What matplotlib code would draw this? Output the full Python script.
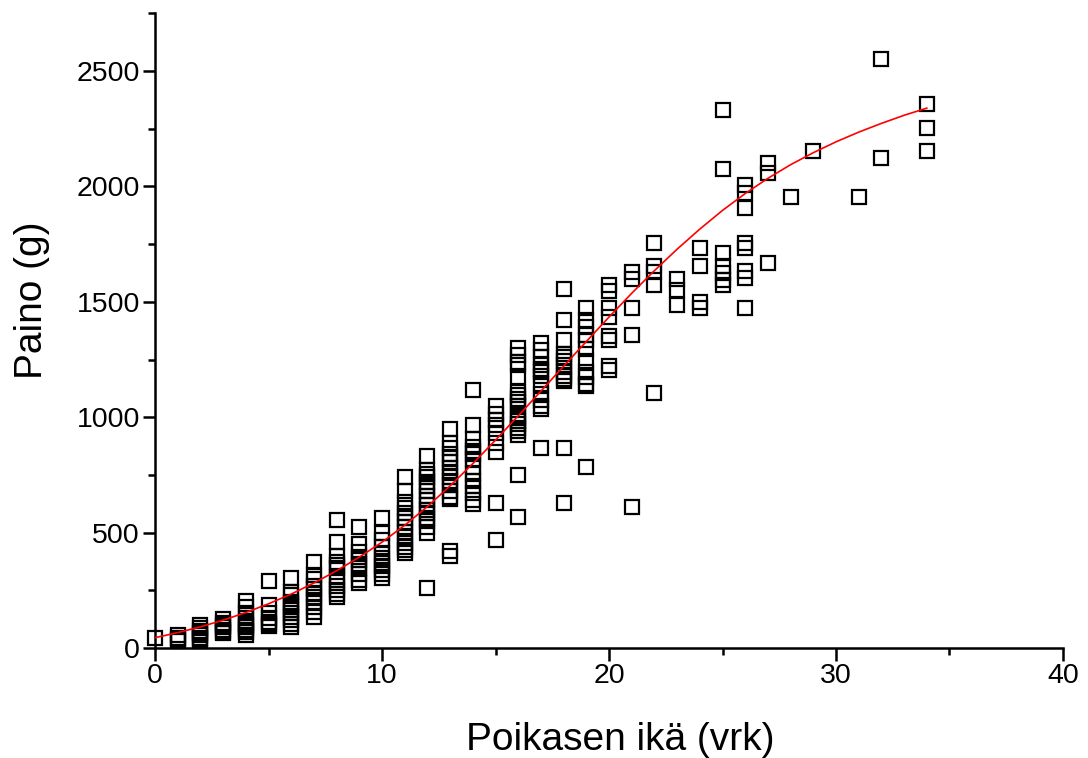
import matplotlib
matplotlib.use("Agg")
import matplotlib.pyplot as plt
from matplotlib.ticker import MultipleLocator

plt.rcParams['font.family'] = ['Liberation Sans', 'DejaVu Sans']

# poikasen ikä (vrk) ja punnitut painot (g) kullekin iälle
paivat = [0, 1, 2, 3, 4, 5, 6, 7, 8, 9, 10, 11, 12, 13, 14, 15, 16, 17,
          18, 19, 20, 21, 22, 23, 24, 25, 26, 27, 28, 29, 31, 32, 34]
painot = [
    [45],
    [58, 45, 35, 30],
    [98, 85, 75, 65, 55, 45, 40, 30],
    [125, 110, 100, 90, 80, 70, 65],
    [205, 180, 150, 130, 110, 100, 90, 80, 70, 55],
    [290, 185, 150, 130, 115, 105, 95],
    [305, 245, 230, 200, 190, 180, 165, 150, 135, 120, 105, 90],
    [375, 315, 300, 270, 255, 235, 220, 200, 180, 155, 135],
    [555, 460, 400, 375, 360, 345, 310, 295, 270, 250, 235, 220],
    [525, 450, 415, 395, 380, 365, 345, 320, 295, 280],
    [565, 500, 470, 440, 410, 390, 370, 355, 340, 320, 305],
    [740, 680, 635, 605, 585, 565, 545, 525, 505, 480, 455, 440, 425, 410],
    [830, 770, 755, 740, 720, 700, 680, 660, 640, 620, 600, 585, 565, 550, 525, 500, 260],
    [950, 890, 865, 840, 825, 805, 780, 760, 740, 725, 705, 680, 655, 645, 420, 400],
    [1120, 965, 905, 870, 855, 840, 820, 785, 755, 725, 700, 670, 640, 625],
    [1050, 1015, 990, 965, 930, 890, 850, 630, 470],
    [1300, 1270, 1240, 1225, 1175, 1110, 1095, 1080, 1065, 1050, 1010, 995, 985, 970, 955, 940, 925, 750, 570],
    [1320, 1290, 1260, 1225, 1210, 1195, 1180, 1145, 1100, 1075, 1050, 1035, 865],
    [1555, 1420, 1335, 1275, 1260, 1245, 1225, 1195, 1180, 1165, 1155, 865, 630],
    [1475, 1420, 1390, 1355, 1335, 1295, 1245, 1195, 1175, 1145, 1135, 785],
    [1575, 1545, 1475, 1435, 1350, 1335, 1220, 1205],
    [1630, 1600, 1475, 1355, 610],
    [1755, 1655, 1630, 1575, 1105],
    [1600, 1550, 1485],
    [1735, 1655, 1500, 1475],
    [2330, 2075, 1710, 1655, 1625, 1595, 1575],
    [2005, 1970, 1905, 1755, 1735, 1635, 1605, 1475],
    [2100, 2060, 1670],
    [1955],
    [2155],
    [1955],
    [2550, 2125],
    [2355, 2255, 2155],
]

# sovitettu kasvukäyrä, luettu kuvasta päivän välein
kayra_x = list(range(0, 35))
kayra_y = [45, 67, 92, 121, 154, 192, 234, 282, 335, 394, 459, 532, 613,
           703, 799, 901, 1006, 1113, 1221, 1328, 1434, 1537, 1635, 1728,
           1815, 1896, 1969, 2035, 2094, 2146, 2193, 2235, 2273, 2308, 2339]

ika = []
paino = []
for p, ws in zip(paivat, painot):
    for w in ws:
        ika.append(p)
        paino.append(w)

fig = plt.figure(figsize=(10.88, 7.58), dpi=100)
ax = fig.add_axes([0.1425, 0.145, 0.977 - 0.1425, 0.9825 - 0.145])

ax.plot(ika, paino, linestyle='none', marker='s', markersize=10,
        markerfacecolor='none', markeredgecolor='black',
        markeredgewidth=1.6, clip_on=False, zorder=2)
ax.plot(kayra_x, kayra_y, color='red', linewidth=1.2, zorder=3)

ax.set_xlim(0, 40)
ax.set_ylim(0, 2750)
ax.xaxis.set_major_locator(MultipleLocator(10))
ax.xaxis.set_minor_locator(MultipleLocator(5))
ax.yaxis.set_major_locator(MultipleLocator(500))
ax.yaxis.set_minor_locator(MultipleLocator(250))

for s in ['top', 'right']:
    ax.spines[s].set_visible(False)
for s in ['left', 'bottom']:
    ax.spines[s].set_linewidth(1.8)

ax.tick_params(which='major', direction='out', length=9, width=1.8,
               labelsize=20.5, pad=2)
ax.tick_params(which='minor', direction='out', length=5, width=1.8)

ax.set_xlabel('Poikasen ikä (vrk)', fontsize=28)
ax.set_ylabel('Paino (g)', fontsize=28)
ax.xaxis.set_label_coords(0.512, -0.116)
ax.yaxis.set_label_coords(-0.116, 0.548)

fig.savefig('out.png', dpi=100)
